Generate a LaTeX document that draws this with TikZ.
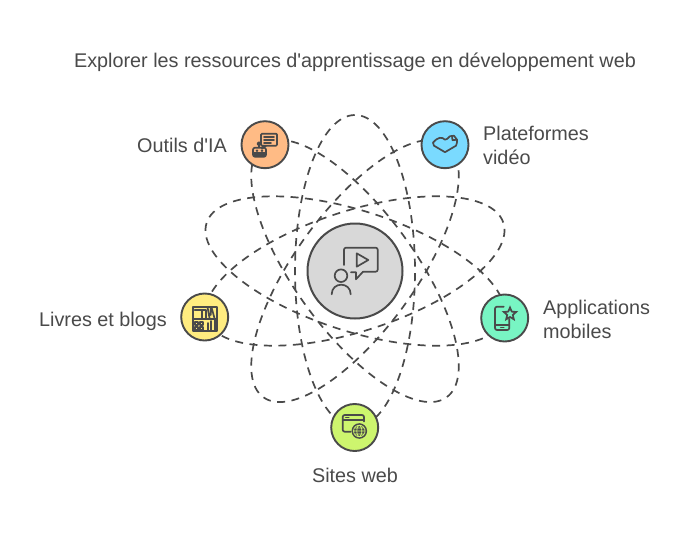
\documentclass[tikz,border=0pt]{standalone}
\usepackage{fontspec}
\newfontfamily\labelfont{Liberation Sans}
\usetikzlibrary{shapes.geometric}
\definecolor{inkgray}{HTML}{4A4A4A}
\definecolor{hubgray}{HTML}{D8D8D8}
\definecolor{outilsfill}{HTML}{FFBB85}
\definecolor{videofill}{HTML}{7ADAFF}
\definecolor{livresfill}{HTML}{FFEC80}
\definecolor{appsfill}{HTML}{78F5C3}
\definecolor{sitesfill}{HTML}{CDF56E}
\tikzset{
	orbit/.style={draw=inkgray, line width=1.7pt, dash pattern=on 8pt off 6.5pt},
	topic/.style={circle, draw=inkgray, line width=1.9pt, minimum size=47pt, inner sep=0pt},
	label/.style={font=\labelfont\fontsize{19.8}{24}\selectfont, text=inkgray, align=left, inner sep=0pt},
	icon/.style={draw=inkgray, line width=1.7pt, line join=round, line cap=round},
}
\begin{document}
\begin{tikzpicture}[x=1pt, y=-1pt]
	\useasboundingbox (0,0) rectangle (686,536);
	\fill[white] (0,0) rectangle (686,536);
	\coordinate (centre) at (355,271);
	% orbits
	\foreach \ang in {-90,-18,54,126,198}
		\draw[orbit, rotate around={\ang:(centre)}] (centre) ellipse [x radius=156, y radius=60];
	% hub and topics
	\node[topic, fill=hubgray, minimum size=95pt, line width=2pt] (hub) at (centre) {};
	\node[topic, fill=outilsfill] (outils) at (265,144.7) {};
	\node[topic, fill=videofill] (video) at (445,144.7) {};
	\node[topic, fill=livresfill] (livres) at (204.7,317) {};
	\node[topic, fill=appsfill] (apps) at (504.7,318) {};
	\node[topic, fill=sitesfill] (sites) at (354.7,427.5) {};
	% labels
	\node[label, anchor=center] (title) at (355,62) {Explorer les ressources d'apprentissage en développement web};
	\node[label, anchor=east] (outilstxt) at (227,145) {Outils d'IA};
	\node[label, anchor=west] (videotxt) at (483,145) {Plateformes\\vidéo};
	\node[label, anchor=west] (appstxt) at (543,319) {Applications\\mobiles};
	\node[label, anchor=east] (livrestxt) at (167,321) {Livres et blogs};
	\node[label, anchor=center] (sitestxt) at (355,475) {Sites web};
	% hub icon
	\begin{scope}[shift={(hub.center)}]
		\draw[icon, rounded corners=2pt] (-11,-6) -- (-11,-23.3) -- (22.7,-23.3) -- (22.7,0.7) -- (8,0.7);
		\draw[icon] (8,0.7) -- (1,8.3) -- (1,1.3) -- (-4,1.3);
		\draw[icon] (1.7,-17.7) -- (13.3,-11) -- (1.7,-4.3) -- cycle;
		\draw[icon] (-14,4.7) circle [radius=6.3];
		\draw[icon] (-23.3,23.3) .. controls (-23.3,10.5) and (-4.3,10.5) .. (-4.3,23.3);
	\end{scope}
	% outils icon
	\begin{scope}[shift={(outils.center)}]
		\draw[icon, rounded corners=1pt] (-4,-11) rectangle (12,1);
		\draw[icon] (-1,-7.5) -- (9,-7.5) (-1,-4.5) -- (9,-4.5) (-1,-1.5) -- (6,-1.5);
		\draw[icon] (-2,1) -- (-3,4) -- (1,1);
		\draw[icon, fill=inkgray] (-6,-1) circle [radius=1.6];
		\draw[icon] (-6,0) -- (-6,2.5);
		\draw[icon, rounded corners=2pt] (-12,12) -- (-12,3) -- (1,3) -- (1,12) -- cycle;
		\draw[icon] (-12,8.5) -- (1,8.5);
		\fill[inkgray] (-8,6) circle [radius=1.3] (-3,6) circle [radius=1.3];
		\fill[inkgray] (-12,8.5) rectangle (1,12);
	\end{scope}
	% video icon
	\begin{scope}[shift={(video.center)}]
		\draw[icon] (5,-8.5) .. controls (3,-6) and (1,-5) .. (0,-5) .. controls (-3,-8) and (-7,-8) .. (-12,-2) .. controls (-12,-1) and (-12,0) .. (-11,1) -- (0,7.5) -- (11,1) .. controls (12,0) and (12,-3) .. (12,-5) -- (9,-9) -- (5,-8.5);
		\draw[icon] (7,-8.5) -- (7.5,-4.5) -- (12,-5);
	\end{scope}
	% livres icon
	\begin{scope}[shift={(livres.center)}]
		\draw[icon] (-12,-10) rectangle (12,14);
		\draw[icon] (-12,2) -- (12,2);
		\draw[icon] (-10,-7) -- (-3,-7) -- (-3,2) (1,2) -- (1,-7) -- (-3,-7);
		\draw[icon] (3,-9) -- (5,2) (6,-9) -- (6,-2) (7,-9) -- (10,2);
		\draw[icon] (3,6) -- (3,14) (6.5,4) -- (6.5,14) (10,2) -- (10,14);
		\draw[icon] (-10,5) rectangle (-7,8) (-5,5) rectangle (-2,8) (-10,10) rectangle (-7,13) (-5,10) rectangle (-2,13);
	\end{scope}
	% apps icon
	\begin{scope}[shift={(apps.center)}]
		\draw[icon, rounded corners=2pt] (-1,-11.3) -- (-9.7,-11.3) -- (-9.7,12) -- (4.6,12) -- (4.6,1);
		\draw[icon] (-9.7,7) -- (4.6,7) (-4,9.5) -- (-1,9.5);
		\node[star, star points=5, star point ratio=2.2, draw=inkgray, line width=1.7pt, minimum size=13pt, inner sep=0pt] (appstar) at (5.3,-4) {};
	\end{scope}
	% sites icon
	\begin{scope}[shift={(sites.center)}]
		\draw[icon, rounded corners=2pt] (-4,4.2) -- (-12,4.2) -- (-12,-12.5) -- (9.3,-12.5) -- (9.3,-6);
		\draw[icon] (-12,-7.5) -- (9.3,-7.5) (-9,-10) -- (-6,-10);
		\fill[inkgray] (4.6,3.5) circle [radius=7.8];
		\draw[sitesfill, line width=0.7pt] (4.6,3.5) circle [radius=5.8] (4.6,3.5) ellipse [x radius=2.5, y radius=5.8] (-1.2,3.5) -- (10.4,3.5) (-0.2,0.5) -- (9.4,0.5) (-0.2,6.5) -- (9.4,6.5);
	\end{scope}
\end{tikzpicture}
\end{document}
